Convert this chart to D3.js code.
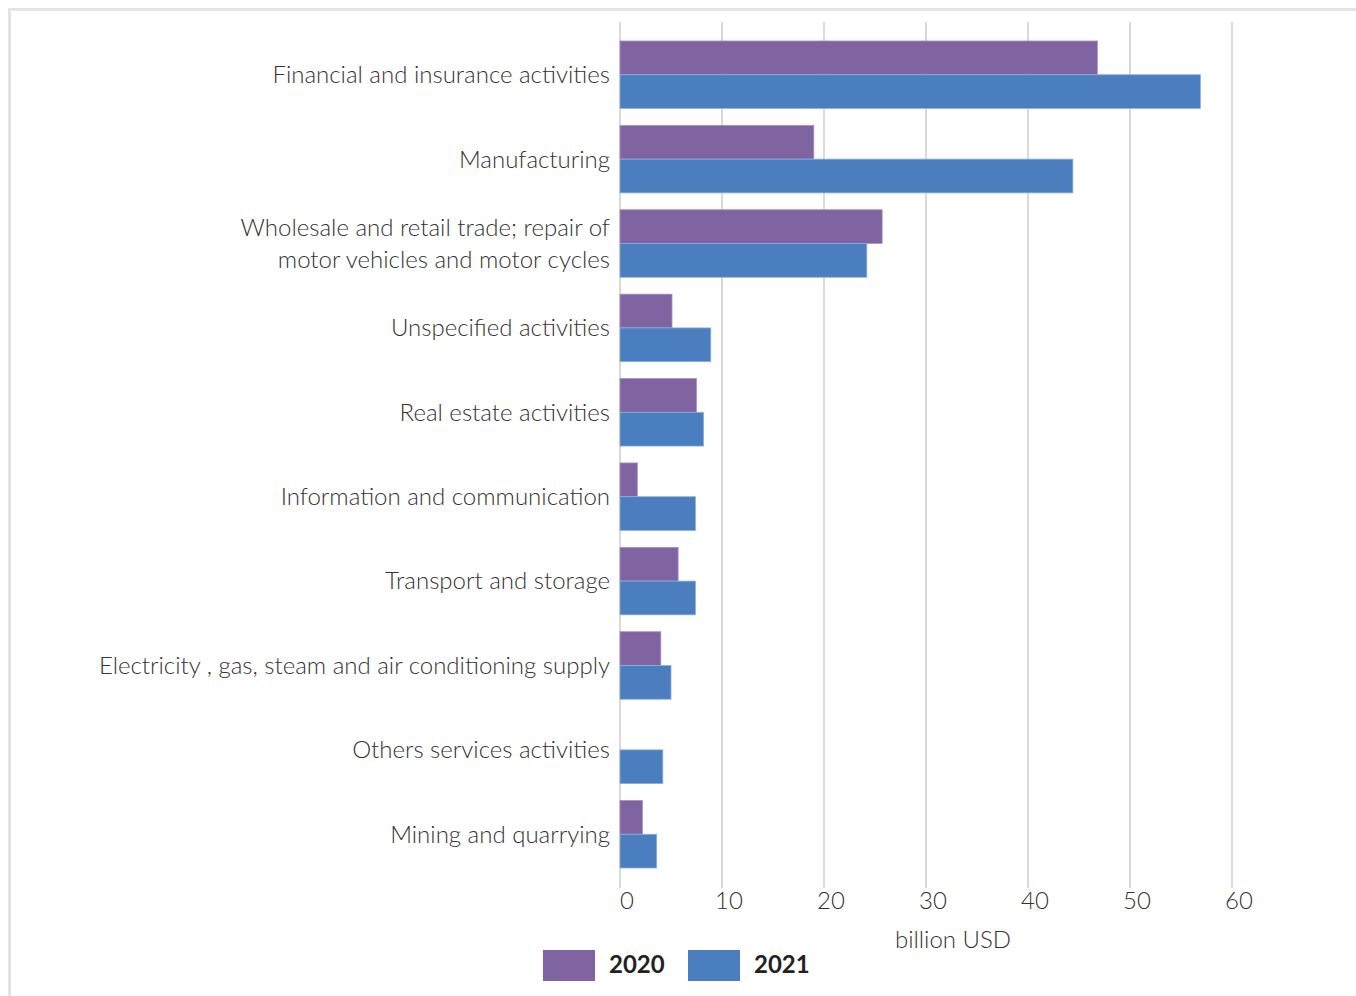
<!DOCTYPE html>
<html>
<head>
<meta charset="utf-8">
<script src="https://cdn.jsdelivr.net/npm/d3@7"></script>
<style>
  html, body { margin: 0; padding: 0; background: #fff; }
  svg { display: block; }
  text { font-family: Lato, "Open Sans", sans-serif; }
</style>
</head>
<body>
<svg id="chart" width="1356" height="996"></svg>
<script>
// ---- data ----
const categories = [
  ["Financial and insurance activities"],
  ["Manufacturing"],
  ["Wholesale and retail trade; repair of", "motor vehicles and motor cycles"],
  ["Unspecified activities"],
  ["Real estate activities"],
  ["Information and communication"],
  ["Transport and storage"],
  ["Electricity , gas, steam and air conditioning supply"],
  ["Others services activities"],
  ["Mining and quarrying"]
];
const values2020 = [46.8, 19.0, 25.7, 5.1, 7.5, 1.7, 5.7, 4.0, null, 2.2];
const values2021 = [56.9, 44.4, 24.2, 8.9, 8.2, 7.4, 7.4, 5.0, 4.2, 3.6];
const seriesNames = ["2020", "2021"];
const seriesColors = ["#8064A2", "#4A7EBF"];
const xTicks = [0, 10, 20, 30, 40, 50, 60];
const xTitle = "billion USD";

// ---- layout ----
const svg = d3.select("#chart");
const x0 = 620, x1 = 1232;
const yTop = 24.1, yBot = 884.9;

const x = d3.scaleLinear().domain([0, 60]).range([x0, x1]);
const y = d3.scaleBand().domain(d3.range(categories.length))
  .range([yTop, yBot]).paddingInner(0.2).paddingOuter(0.2);
const ySub = d3.scaleBand().domain([0, 1]).range([0, y.bandwidth()]);

// frame
svg.append("line").attr("x1", 9).attr("x2", 1356).attr("y1", 9.5).attr("y2", 9.5)
  .attr("stroke", "#e4e4e4").attr("stroke-width", 3);
svg.append("line").attr("x1", 9.5).attr("x2", 9.5).attr("y1", 8).attr("y2", 996)
  .attr("stroke", "#e4e4e4").attr("stroke-width", 3);

// gridlines
svg.append("g").selectAll("line").data(xTicks).join("line")
  .attr("x1", d => x(d)).attr("x2", d => x(d))
  .attr("y1", 22).attr("y2", 888)
  .attr("stroke", "#d9d9d9").attr("stroke-width", 2);

// bars
const series = [values2020, values2021];
series.forEach((vals, si) => {
  svg.append("g").selectAll("rect")
    .data(vals.map((v, i) => ({ v, i })).filter(d => d.v != null))
    .join("rect")
    .attr("x", x(0))
    .attr("y", d => y(d.i) + ySub(si))
    .attr("width", d => x(d.v) - x(0))
    .attr("height", ySub.bandwidth())
    .attr("fill", seriesColors[si])
    .attr("stroke", si === 0 ? "#a592c0" : "#8fb0dc")
    .attr("stroke-width", 0.8);
});

// category labels
const labels = svg.append("g");
categories.forEach((lines, i) => {
  const cy = y(i) + y.bandwidth() / 2;
  const lh = 32;
  const t = labels.append("text")
    .attr("x", 610)
    .attr("text-anchor", "end")
    .attr("font-size", 24)
    .attr("font-weight", 300)
    .attr("fill", "#333");
  lines.forEach((ln, li) => {
    t.append("tspan")
      .attr("x", 610)
      .attr("y", cy + (li - (lines.length - 1) / 2) * lh)
      .attr("dy", "0.35em")
      .text(ln);
  });
});

// x axis tick labels
svg.append("g").selectAll("text").data(xTicks).join("text")
  .attr("x", d => x(d) + 7)
  .attr("y", 901)
  .attr("dy", "0.35em")
  .attr("text-anchor", "middle")
  .attr("font-size", 24)
  .attr("font-weight", 300)
  .attr("fill", "#333")
  .text(d => d);

// axis title
svg.append("text")
  .attr("x", 953).attr("y", 940).attr("dy", "0.35em")
  .attr("text-anchor", "middle")
  .attr("font-size", 24)
  .attr("font-weight", 300)
  .attr("fill", "#333")
  .text(xTitle);

// legend
const legend = svg.append("g");
const legendX = [543, 688];
seriesNames.forEach((name, i) => {
  legend.append("rect")
    .attr("x", legendX[i]).attr("y", 950)
    .attr("width", 52).attr("height", 31)
    .attr("fill", seriesColors[i]);
  legend.append("text")
    .attr("x", legendX[i] + 66).attr("y", 965).attr("dy", "0.35em")
    .attr("font-size", 24).attr("font-weight", 700)
    .attr("fill", "#222")
    .text(name);
});
</script>
</body>
</html>
